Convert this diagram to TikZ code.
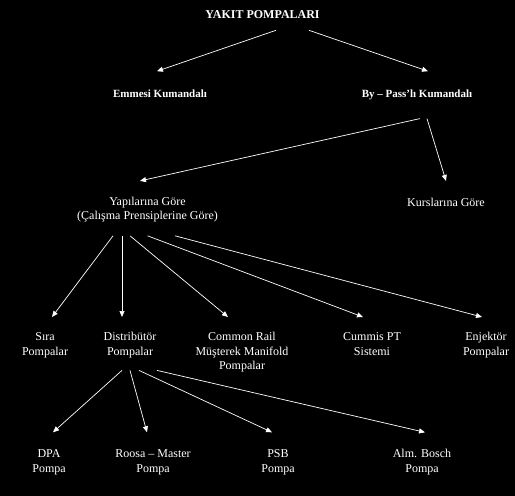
\documentclass[tikz,border=0pt]{standalone}
\usepackage{fontspec}
\setmainfont{Liberation Serif}
\usepackage{tikz}
\usetikzlibrary{arrows.meta}

\tikzset{
    lbl/.style={text=white, font=\fontsize{12}{14.5}\selectfont, align=center, inner sep=0pt, anchor=north},
    head/.style={lbl, font=\fontsize{11}{14}\selectfont\bfseries},
    arr/.style={white, line width=0.7pt, -{Triangle[length=6pt,width=5pt]}}
}

\begin{document}
\begin{tikzpicture}[x=1pt,y=-1pt]
    \fill [black] (0,0) rectangle (515,496);

    % levels from top to bottom
    \node [lbl, font=\fontsize{12}{14.5}\selectfont\bfseries] (pompa) at (262.5,8.4) {\strut YAKIT POMPALARI\strut};
    \node [head] (emmesi) at (160,87.2) {\strut Emmesi Kumandalı\strut};
    \node [head] (bypass) at (417,87.2) {\strut By – Pass’lı Kumandalı\strut};
    \node [lbl] (yapi) at (147.5,194.9) {\strut Yapılarına Göre\\(Çalışma Prensiplerine Göre)\strut};
    \node [lbl] (kurs) at (446,195.9) {\strut Kurslarına Göre\strut};
    \node [lbl] (sira) at (45,330.5) {\strut Sıra\\Pompalar\strut};
    \node [lbl] (dist) at (130,330.5) {\strut Distribütör\\Pompalar\strut};
    \node [lbl] (rail) at (242,330.5) {\strut Common Rail\\Müşterek Manifold\\Pompalar\strut};
    \node [lbl] (cummis) at (372,330.5) {\strut Cummis PT\\Sistemi\strut};
    \node [lbl] (enj) at (486,330.5) {\strut Enjektör\\Pompalar\strut};
    \node [lbl] (dpa) at (49,447.3) {\strut DPA\\Pompa\strut};
    \node [lbl] (roosa) at (153,447.3) {\strut Roosa – Master\\Pompa\strut};
    \node [lbl] (psb) at (278,447.3) {\strut PSB\\Pompa\strut};
    \node [lbl] (bosch) at (422,447.3) {\strut Alm. Bosch\\Pompa\strut};

    \draw [arr] ([xshift=13.5pt,yshift=-7pt]pompa.south) -- ([xshift=-3pt,yshift=16pt]emmesi.north);
    \draw [arr] ([xshift=46.5pt,yshift=-7pt]pompa.south) -- ([xshift=11pt,yshift=16pt]bypass.north);

    \draw [arr] ([xshift=3pt,yshift=-17pt]bypass.south) -- ([xshift=-7.5pt,yshift=14pt]yapi.north);
    \draw [arr] ([xshift=10pt,yshift=-17pt]bypass.south) -- ([yshift=15pt]kurs.north);

    \draw [arr] ([xshift=-34.5pt,yshift=-11.5pt]yapi.south) -- ([xshift=7pt,yshift=13.5pt]sira.north);
    \draw [arr] ([xshift=-25.5pt,yshift=-11.5pt]yapi.south) -- ([xshift=-8pt,yshift=13.5pt]dist.north);
    \draw [arr] ([xshift=-17.5pt,yshift=-11.5pt]yapi.south) -- ([xshift=-14pt,yshift=13.5pt]rail.north);
    \draw [arr] ([yshift=-11.5pt]yapi.south) -- ([xshift=-9pt,yshift=13.5pt]cummis.north);
    \draw [arr] ([xshift=27.5pt,yshift=-11.5pt]yapi.south) -- ([xshift=-4pt,yshift=13.5pt]enj.north);

    \draw [arr] ([xshift=-8pt,yshift=-10.5pt]dist.south) -- ([xshift=4pt,yshift=15pt]dpa.north);
    \draw [arr] ([yshift=-10.5pt]dist.south) -- ([xshift=-6pt,yshift=15pt]roosa.north);
    \draw [arr] ([xshift=9pt,yshift=-10.5pt]dist.south) -- ([xshift=-6pt,yshift=15pt]psb.north);
    \draw [arr] ([xshift=27pt,yshift=-10.5pt]dist.south) -- ([xshift=3pt,yshift=15pt]bosch.north);
\end{tikzpicture}
\end{document}
